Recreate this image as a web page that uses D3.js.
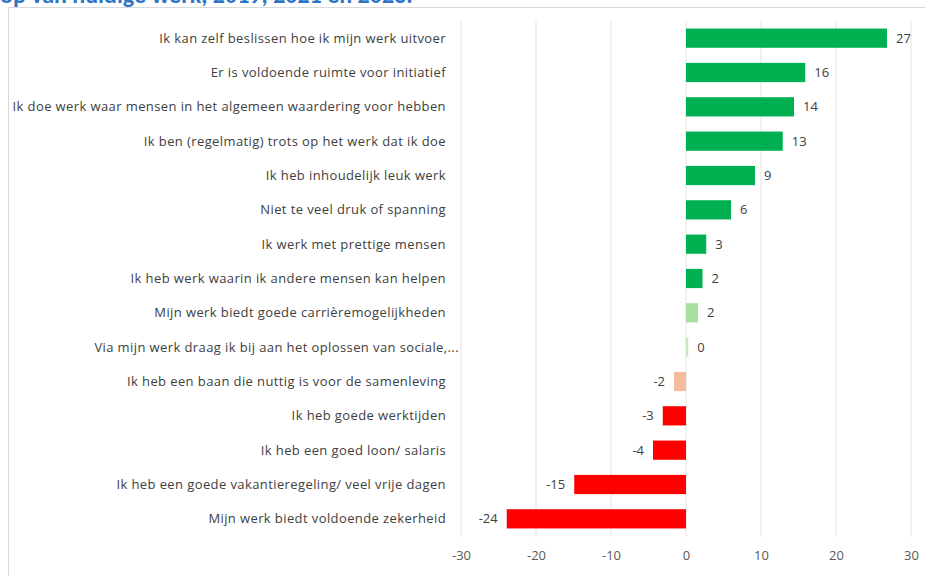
<!DOCTYPE html>
<html>
<head>
<meta charset="utf-8">
<script src="https://cdn.jsdelivr.net/npm/d3@7"></script>
<style>
  body { margin: 0; background: #fff; }
  svg { display: block; font-family: "Open Sans", sans-serif; }
</style>
</head>
<body>
<svg id="chart" width="925" height="576"></svg>
<script>
var categories = [
  "Ik kan zelf beslissen hoe ik mijn werk uitvoer",
  "Er is voldoende ruimte voor initiatief",
  "Ik doe werk waar mensen in het algemeen waardering voor hebben",
  "Ik ben (regelmatig) trots op het werk dat ik doe",
  "Ik heb inhoudelijk leuk werk",
  "Niet te veel druk of spanning",
  "Ik werk met prettige mensen",
  "Ik heb werk waarin ik andere mensen kan helpen",
  "Mijn werk biedt goede carrièremogelijkheden",
  "Via mijn werk draag ik bij aan het oplossen van sociale,...",
  "Ik heb een baan die nuttig is voor de samenleving",
  "Ik heb goede werktijden",
  "Ik heb een goed loon/ salaris",
  "Ik heb een goede vakantieregeling/ veel vrije dagen",
  "Mijn werk biedt voldoende zekerheid"
]
var values = [26.8, 15.9, 14.4, 12.9, 9.2, 6.0, 2.7, 2.2, 1.6, 0.3, -1.6, -3.1, -4.4, -14.9, -23.9]
var barColors = ["#00B050", "#00B050", "#00B050", "#00B050", "#00B050", "#00B050", "#00B050", "#00B050",
  "#A9DFA0", "#C9E8C0", "#F4BC9A", "#FF0000", "#FF0000", "#FF0000", "#FF0000"]
var ticks = [-30, -20, -10, 0, 10, 20, 30]
var title = "op van huidige werk, 2019, 2021 en 2023."

var svg = d3.select("#chart")

// title, cut off at the top like the screenshot
svg.append("text")
  .attr("x", 0)
  .attr("y", 3)
  .style("font-family", "Calibri, Carlito, 'Open Sans', sans-serif")
  .style("font-weight", "bold")
  .style("font-size", "24px")
  .style("fill", "#2E74C8")
  .text(title)

// chart area border
svg.append("rect")
  .attr("x", 8.5)
  .attr("y", 7.5)
  .attr("width", 930)
  .attr("height", 600)
  .style("fill", "none")
  .style("stroke", "#D9D9D9")

var x = d3.scaleLinear().domain([-30, 30]).range([461, 911])
var y = d3.scaleBand().domain(categories).range([21, 536]).paddingInner(0.44).paddingOuter(0.22)

// gridlines
svg.append("g")
  .selectAll("line")
  .data(ticks)
  .join("line")
  .attr("x1", d => x(d))
  .attr("x2", d => x(d))
  .attr("y1", 21)
  .attr("y2", 537)
  .style("stroke", "#E3E3E3")
  .style("stroke-width", 1)

// x axis labels
var xAxis = svg.append("g")
  .attr("transform", "translate(0,537)")
  .call(d3.axisBottom(x).tickValues(ticks).tickFormat(d => String(d)).tickSize(0).tickPadding(14))
xAxis.select(".domain").remove()
xAxis.selectAll("text")
  .style("font-family", "'Open Sans', sans-serif")
  .style("font-size", "13px")
  .style("fill", "#595959")

// bars
svg.append("g")
  .selectAll("rect")
  .data(values)
  .join("rect")
  .attr("x", d => x(Math.min(0, d)))
  .attr("y", (d, i) => y(categories[i]))
  .attr("width", d => Math.abs(x(d) - x(0)))
  .attr("height", y.bandwidth())
  .style("fill", (d, i) => barColors[i])

// category labels
svg.append("g")
  .selectAll("text")
  .data(categories)
  .join("text")
  .attr("x", 446)
  .attr("dx", d => d.endsWith("...") ? 13 : 0)
  .attr("y", d => y(d) + y.bandwidth() / 2)
  .attr("dy", "0.35em")
  .attr("text-anchor", "end")
  .style("font-size", "13px")
  .style("letter-spacing", "0.4px")
  .style("fill", "#404040")
  .text(d => d)

// value labels
svg.append("g")
  .selectAll("text")
  .data(values)
  .join("text")
  .attr("x", d => d >= 0 ? x(d) + 9 : x(d) - 9)
  .attr("y", (d, i) => y(categories[i]) + y.bandwidth() / 2)
  .attr("dy", "0.35em")
  .attr("text-anchor", d => d >= 0 ? "start" : "end")
  .style("font-size", "13px")
  .style("fill", "#404040")
  .text(d => Math.round(d))
</script>
</body>
</html>
